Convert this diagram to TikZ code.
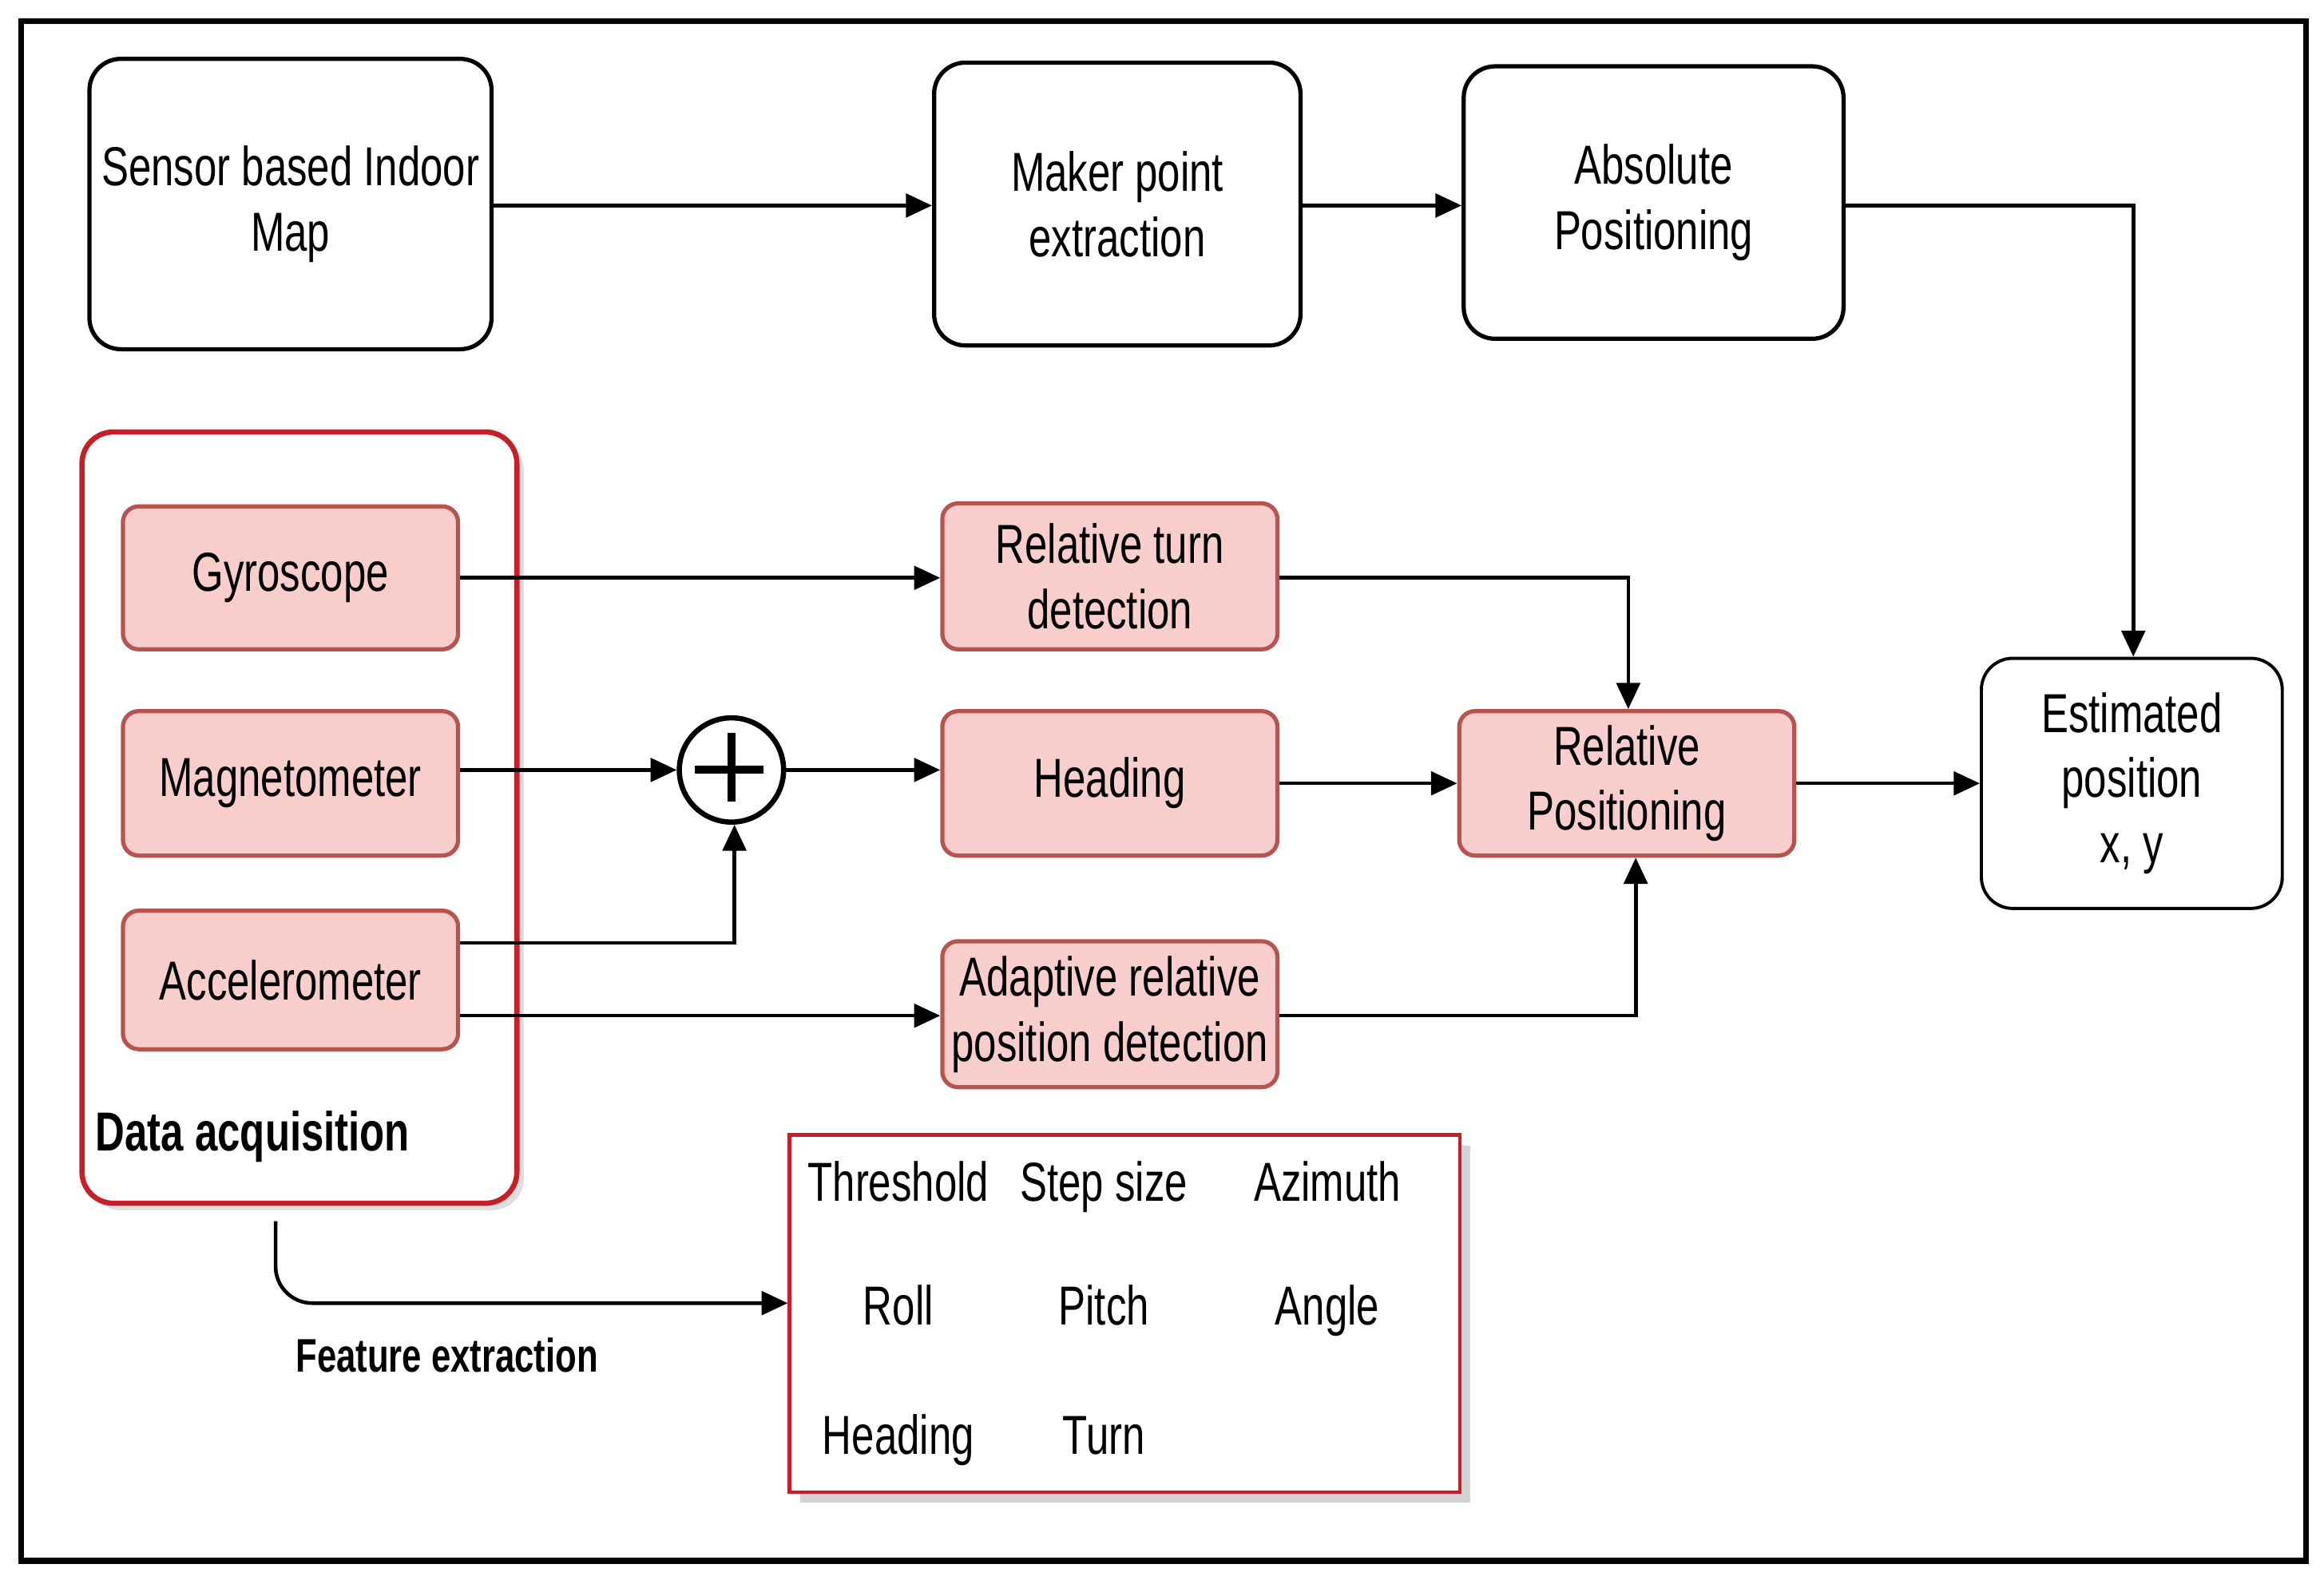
\documentclass[tikz,border=0pt]{standalone}
\usepackage{fontspec}
\setmainfont{Liberation Sans}[FakeStretch=0.74]
\usetikzlibrary{arrows.meta,shadows}
\definecolor{pinkf}{HTML}{F8CECC}
\definecolor{pinkd}{HTML}{B85450}
\definecolor{redb}{HTML}{C81E28}
\begin{document}
\begin{tikzpicture}[x=0.02cm,y=-0.02cm,
  every node/.style={font=\fontsize{21}{25}\selectfont,align=center},
  wbox/.style={draw,line width=1.6pt,rounded corners=12pt,fill=white},
  pbox/.style={draw=pinkd,line width=1.6pt,rounded corners=6pt,fill=pinkf,minimum width=4.5cm},
  gt/.style={text height=15pt,text depth=4pt},
  arr/.style={line width=1.4pt,-{Triangle[length=10pt,width=9pt]}},
  ln/.style={line width=1.4pt}]
\useasboundingbox (0,0) rectangle (1560,1058);
\draw[line width=2.2pt] (14,14) rectangle (1548,1048);
% top row
\node[wbox,minimum width=5.4cm,minimum height=3.9cm] (map) at (195,137) {Sensor based Indoor\\Map};
\node[wbox,minimum width=4.92cm,minimum height=3.8cm] (mak) at (750,137) {Maker point\\extraction};
\node[wbox,minimum width=5.1cm,minimum height=3.66cm] (abs) at (1110,136) {Absolute\\Positioning};
% data acquisition
\node[draw=redb,fill=white,line width=2pt,rounded corners=12pt,minimum width=5.84cm,minimum height=10.36cm,drop shadow={opacity=0.25}] (daq) at (201,549) {};
\node[anchor=west,font=\fontsize{21}{25}\selectfont\bfseries] (daqt) at (58,763) {Data acquisition};
\node[pbox,minimum height=1.92cm] (gyr) at (195,388) {Gyroscope};
\node[pbox,minimum height=1.94cm] (mag) at (195,526) {Magnetometer};
\node[pbox,minimum height=1.86cm] (acc) at (195,658) {Accelerometer};
% middle
\node[draw,line width=2pt,circle,minimum size=1.4cm] (sum) at (491,517) {};
\draw[line width=3pt] (sum.north)+(0,12) -- ++(0,58) (sum.west)+(12,0) -- ++(58,0);
\node[pbox,minimum height=1.96cm] (rt) at (745,387) {Relative turn\\detection};
\node[pbox,minimum height=1.94cm] (hd) at (745,526) {Heading};
\node[pbox,minimum height=1.96cm] (ad) at (745,681) {Adaptive relative\\position detection};
\node[pbox,minimum height=1.94cm] (rp) at (1092,526) {Relative\\Positioning};
\node[wbox,line width=1.2pt,minimum width=4.04cm,minimum height=3.36cm] (est) at (1431,526) {Estimated\\position\\x, y};
% feature box
\node[draw=redb,line width=1.4pt,minimum width=9cm,minimum height=4.8cm,fill=white,drop shadow={opacity=0.35,shadow xshift=4pt,shadow yshift=-4pt}] (feat) at (755,882) {};
\node[gt] (f1) at (603,797) {Threshold}; \node[gt] (f2) at (741,797) {Step size}; \node[gt] (f3) at (891,797) {Azimuth};
\node[gt] (f4) at (603,880) {Roll}; \node[gt] (f5) at (741,880) {Pitch}; \node[gt] (f6) at (891,880) {Angle};
\node[gt] (f7) at (603,967) {Heading}; \node[gt] (f8) at (741,967) {Turn};
\node[font=\fontsize{18}{22}\selectfont\bfseries] (fe) at (300,910) {Feature extraction};
% connectors
\draw[arr] (map.east |- 0,138) -- (mak.west |- 0,138);
\draw[arr] (mak.east |- 0,138) -- (abs.west |- 0,138);
\coordinate (c1) at (1432,138);
\draw[arr] (abs.east |- c1) -- (c1) -- (est.north -| c1);
\draw[arr] (gyr.east) -- (rt.west |- gyr.east);
\coordinate (c2) at (1093,388);
\draw[arr] (rt.east |- c2) -- (c2) -- (rp.north -| c2);
\draw[arr] (mag.east |- sum.west) -- (sum.west);
\coordinate (c3) at (493,633);
\draw[arr] (acc.east |- c3) -- (c3) -- (sum.south -| c3);
\draw[arr] (sum.east) -- (hd.west |- sum.east);
\draw[arr] (hd.east) -- (rp.west);
\coordinate (c4) at (1098,682);
\draw[arr] (acc.east |- c4) -- (ad.west |- c4);
\draw[arr] (ad.east |- c4) -- (c4) -- (rp.south -| c4);
\draw[arr] (rp.east) -- (est.west);
\coordinate (c5) at (185,820);
\coordinate (c6) at (185,875);
\draw[arr,rounded corners=14pt] (c5) -- (c6) -- (feat.west |- c6);
\end{tikzpicture}
\end{document}
